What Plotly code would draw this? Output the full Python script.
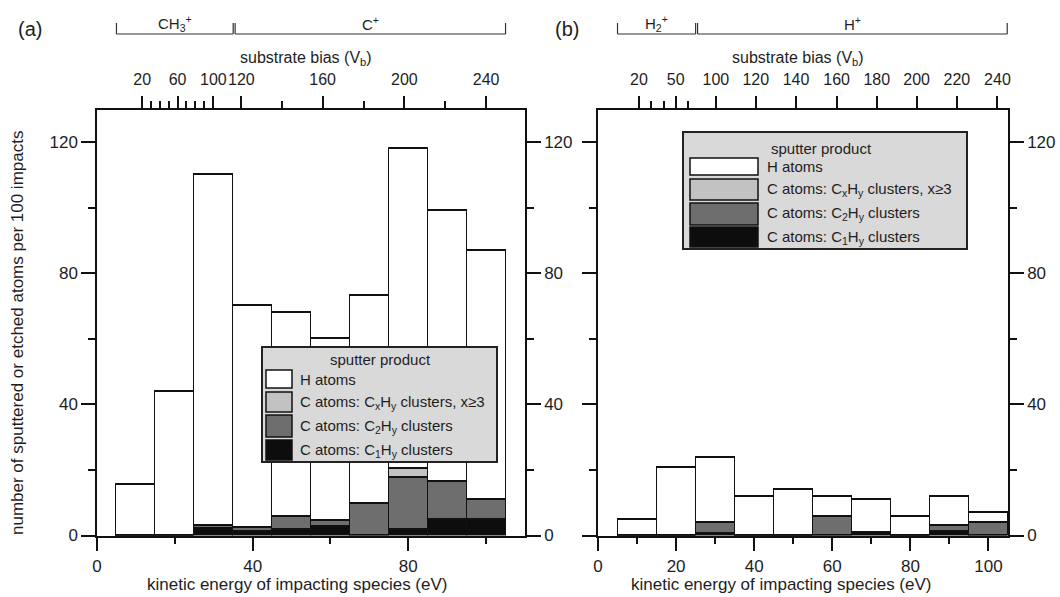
import plotly.graph_objects as go

# ---------------- data ----------------
energy = [10, 20, 30, 40, 50, 60, 70, 80, 90, 100]          # bin centres (eV), bin width 10 eV
bin_width = 10

# panel (a): CH3+ / C+ impacts
a_C1 = [0, 0, 2.0, 1.3, 1.7, 2.8, 0, 1.7, 4.8, 4.8]
a_C2 = [0, 0, 1.0, 1.0, 4.1, 1.8, 9.9, 16.1, 11.8, 6.1]
a_C3 = [0, 0, 0, 0, 0, 0, 0, 2.5, 0, 0]
a_H = [15.7, 44.0, 107.2, 68.0, 62.3, 55.4, 63.3, 97.9, 82.7, 76.2]

# panel (b): H2+ / H+ impacts
b_C1 = [0, 0, 0.6, 0, 0, 0, 1.0, 0, 1.3, 0]
b_C2 = [0, 0, 3.5, 0, 0, 5.8, 0, 0, 1.8, 4.1]
b_C3 = [0, 0, 0, 0, 0, 0, 0, 0, 0, 0]
b_H = [4.9, 20.9, 19.8, 11.9, 13.9, 6.1, 9.9, 5.8, 8.8, 2.8]

series_names = ["C atoms: C<sub>1</sub>H<sub>y</sub> clusters",
                "C atoms: C<sub>2</sub>H<sub>y</sub> clusters",
                "C atoms: C<sub>x</sub>H<sub>y</sub> clusters, x≥3",
                "H atoms"]
series_colors = ["#0d0d0d", "#6e6e6e", "#c2c2c2", "#ffffff"]

# top axis: substrate bias labels and the kinetic energy (eV) they sit at
a_bias_labels = ["20", "60", "100", "120", "160", "200", "240"]
a_bias_energy = [11.6, 20.7, 29.9, 37.1, 58.0, 79.0, 100.0]
a_bias_minor_energy = [13.9, 16.2, 18.4, 23.0, 25.3, 27.6, 47.5, 68.5, 89.5]
b_bias_labels = ["20", "50", "100", "120", "140", "160", "180", "200", "220", "240"]
b_bias_energy = [10.5, 19.9, 30.2, 40.4, 50.7, 61.1, 71.4, 81.6, 91.9, 102.3]
b_bias_minor_energy = [13.6, 16.8, 23.0]

# impacting species brackets (energy spans)
a_species = ["CH<sub>3</sub><sup>+</sup>", "C<sup>+</sup>"]
a_species_span = [(5, 35), (35.5, 105)]
b_species = ["H<sub>2</sub><sup>+</sup>", "H<sup>+</sup>"]
b_species_span = [(5, 25), (25.5, 104.8)]

# ---------------- layout helpers ----------------
W, H = 1060, 597
def px(x):
    return x / W
def py(y):
    return 1 - y / H

FONT = "Liberation Sans, Arial, Helvetica, sans-serif"
TXT = "#1e1e1e"

fig = go.Figure()

panels = [("x", "y", [a_C1, a_C2, a_C3, a_H]), ("x3", "y3", [b_C1, b_C2, b_C3, b_H])]
for xa, ya, vals in panels:
    for name, col, v in zip(series_names, series_colors, vals):
        fig.add_trace(go.Bar(x=energy, y=v, width=bin_width, name=name,
                             xaxis=xa, yaxis=ya, showlegend=False,
                             marker=dict(color=col, line=dict(color="#111111", width=1.5))))
# empty traces so the overlay (top / right) axes are drawn
fig.add_trace(go.Scatter(x=[], y=[], xaxis="x2", yaxis="y2", showlegend=False))
fig.add_trace(go.Scatter(x=[], y=[], xaxis="x4", yaxis="y4", showlegend=False))

ydom = [py(535.5), py(109.5)]
xdom_a = [px(97), px(525)]
xdom_b = [px(598), px(1008)]

common = dict(showline=True, linecolor="#111111", linewidth=1.5, showgrid=False, zeroline=False,
              ticks="outside", tickcolor="#111111", tickwidth=1.5, automargin=False, tickangle=0,
              tickfont=dict(size=17, color=TXT, family=FONT))
topfont = dict(size=16, color=TXT, family=FONT)
minor_style = dict(ticks="outside", ticklen=7, tickwidth=1.5, tickcolor="#111111", showgrid=False)

fig.update_layout(
    template="none",
    width=W, height=H, autosize=False, margin=dict(l=0, r=0, t=0, b=0, pad=0),
    paper_bgcolor="white", plot_bgcolor="white",
    barmode="stack", bargap=0,
    font=dict(family=FONT, color=TXT),
    xaxis=dict(domain=xdom_a, range=[0, 110], anchor="y", tickmode="array",
               tickvals=[0, 40, 80], ticklen=14,
               minor=dict(tickmode="array", tickvals=[20, 60, 100], **minor_style), **common),
    xaxis2=dict(overlaying="x", side="top", anchor="y", range=[0, 110], tickmode="array",
                tickvals=a_bias_energy, ticktext=a_bias_labels, ticklen=12, ticklabelstandoff=4,
                minor=dict(tickmode="array", tickvals=a_bias_minor_energy, **minor_style),
                **{**common, "tickfont": topfont}),
    yaxis=dict(domain=ydom, range=[0, 130], anchor="x", tickmode="array",
               tickvals=[0, 40, 80, 120], ticklen=14,
               minor=dict(tickmode="array", tickvals=[20, 60, 100], **minor_style), **common),
    yaxis2=dict(overlaying="y", side="right", anchor="x", range=[0, 130], tickmode="array",
                tickvals=[0, 40, 80, 120], ticklen=14,
                minor=dict(tickmode="array", tickvals=[20, 60, 100], **minor_style), **common),
    xaxis3=dict(domain=xdom_b, range=[0, 105], anchor="y3", tickmode="array",
                tickvals=[0, 20, 40, 60, 80, 100], ticklen=14,
                minor=dict(tickmode="array", tickvals=[10, 30, 50, 70, 90], **minor_style), **common),
    xaxis4=dict(overlaying="x3", side="top", anchor="y3", range=[0, 105], tickmode="array",
                tickvals=b_bias_energy, ticktext=b_bias_labels, ticklen=12, ticklabelstandoff=4,
                minor=dict(tickmode="array", tickvals=b_bias_minor_energy, **minor_style),
                **{**common, "tickfont": topfont}),
    yaxis3=dict(domain=ydom, range=[0, 130], anchor="x3", tickmode="array",
                tickvals=[0, 40, 80, 120], ticklen=14, showticklabels=False,
                minor=dict(tickmode="array", tickvals=[20, 60, 100], **minor_style), **common),
    yaxis4=dict(overlaying="y3", side="right", anchor="x3", range=[0, 130], tickmode="array",
                tickvals=[0, 40, 80, 120], ticklen=14,
                minor=dict(tickmode="array", tickvals=[20, 60, 100], **minor_style), **common),
)

shapes = []
annots = []

def note(text, x, y, size, xref="paper", xanchor="center", **kw):
    annots.append(dict(text=text, xref=xref, yref="paper", x=x, y=y, showarrow=False,
                       xanchor=xanchor, yanchor="middle",
                       font=dict(size=size, color=TXT, family=FONT), **kw))

# species brackets above the top axis
for xref, names, spans in [("x", a_species, a_species_span), ("x3", b_species, b_species_span)]:
    for name, (e0, e1) in zip(names, spans):
        line = dict(color="#333333", width=1.2)
        shapes.append(dict(type="line", xref=xref, yref="paper", x0=e0, x1=e1, y0=py(34), y1=py(34), line=line))
        shapes.append(dict(type="line", xref=xref, yref="paper", x0=e0, x1=e0, y0=py(34), y1=py(23), line=line))
        shapes.append(dict(type="line", xref=xref, yref="paper", x0=e1, x1=e1, y0=py(34), y1=py(23), line=line))
        note(name, (e0 + e1) / 2, py(23), 15, xref=xref)

# axis titles and panel labels
note("substrate bias (V<sub>b</sub>)", px(306), py(59), 16)
note("substrate bias (V<sub>b</sub>)", px(798), py(59), 16)
note("kinetic energy of impacting species (eV)", px(297), py(584), 17)
note("kinetic energy of impacting species (eV)", px(781), py(584), 17)
note("number of sputtered or etched atoms per 100 impacts", px(17), py(333), 17, textangle=-90)
note("(a)", px(30), py(29), 20)
note("(b)", px(567), py(29), 20)

# hand-drawn legends (one per panel)
legend_order = [3, 2, 1, 0]   # H, Cx>=3, C2, C1
def draw_legend(box, sw_x, rows, text_x, title_xy):
    x0, y0, x1, y1 = box
    shapes.append(dict(type="rect", xref="paper", yref="paper", x0=px(x0), x1=px(x1), y0=py(y1), y1=py(y0),
                       fillcolor="#d9d9d9", line=dict(color="#222222", width=2)))
    note("sputter product", px(title_xy[0]), py(title_xy[1]), 15)
    for idx, (ry0, ry1) in zip(legend_order, rows):
        shapes.append(dict(type="rect", xref="paper", yref="paper", x0=px(sw_x[0]), x1=px(sw_x[1]),
                           y0=py(ry1), y1=py(ry0), fillcolor=series_colors[idx],
                           line=dict(color="#111111", width=1.5)))
        note(series_names[idx], px(text_x), py((ry0 + ry1) / 2), 15, xanchor="left")

draw_legend((262, 347, 497, 462), (266, 292), [(370, 388), (392, 412), (415, 437), (440, 460)], 298, (380, 360))
draw_legend((683, 132, 967, 249), (690, 758), [(158, 175), (179, 200), (203, 225), (227, 247)], 765, (821, 149))

fig.update_layout(shapes=shapes, annotations=annots)
fig.write_html("out.html", config={"displayModeBar": False},
               post_script="document.body.style.margin='0px';")
